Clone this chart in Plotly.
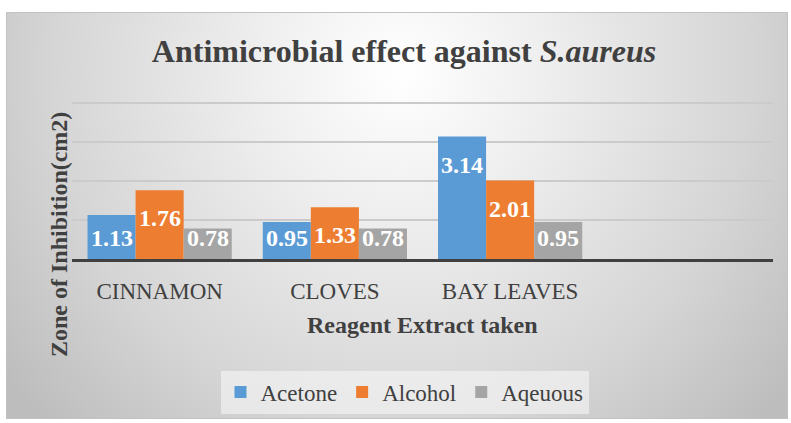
import base64
import plotly.graph_objects as go

# ---- data ----
categories = ["CINNAMON", "CLOVES", "BAY LEAVES"]
series_names = ["Acetone", "Alcohol", "Aqeuous"]
acetone = [1.13, 0.95, 3.14]
alcohol = [1.76, 1.33, 2.01]
aqueous = [0.78, 0.78, 0.95]
series_values = [acetone, alcohol, aqueous]
colors = ["#5B9BD5", "#ED7D31", "#A5A5A5"]

W, H = 791, 423
FONT = "Liberation Serif"
TXT = "#404040"
BARGAP = 0.177
Y_MAX = 4.05
LABEL_DROP = 0.72   # label centre sits this far (value units) below bar top
LABEL_FLOOR = 0.55  # but never lower than this

# plot-area geometry (pixels)
AX_BOTTOM = 259
PX_PER_UNIT = 39
AX_TOP = AX_BOTTOM - Y_MAX * PX_PER_UNIT

# ---- gradient chart-area background (SVG) ----
bw, bh = 782, 407
svg = f"""<svg xmlns='http://www.w3.org/2000/svg' width='{bw}' height='{bh}' viewBox='0 0 {bw} {bh}' preserveAspectRatio='none'>
<defs><radialGradient id='g' gradientUnits='userSpaceOnUse' cx='395' cy='60' r='500'>
<stop offset='0' stop-color='#ffffff'/>
<stop offset='0.28' stop-color='#efefef'/>
<stop offset='0.7' stop-color='#d5d5d5'/>
<stop offset='1' stop-color='#bdbdbd'/>
</radialGradient></defs>
<rect x='0.5' y='0.5' width='{bw-1}' height='{bh-1}' fill='url(#g)' stroke='#c2c2c2' stroke-width='1'/>
</svg>"""
uri = "data:image/svg+xml;base64," + base64.b64encode(svg.encode()).decode()

fig = go.Figure()
for name, vals, col in zip(series_names, series_values, colors):
    fig.add_trace(go.Bar(x=categories, y=vals, name=name, marker_color=col,
                         marker_line_width=0, hoverinfo="x+y+name"))

# data labels (inside end, Excel style)
bar_w = (1 - BARGAP) / len(series_names)
annotations = []
for j, vals in enumerate(series_values):
    for i, v in enumerate(vals):
        annotations.append(dict(
            x=i + (j - 1) * bar_w, y=max(v - LABEL_DROP, LABEL_FLOOR),
            xref="x", yref="y", text=f"<b>{v:.2f}</b>", showarrow=False,
            font=dict(family=FONT, size=24, color="#ffffff"),
            xanchor="center", yanchor="middle"))

# axis titles
annotations.append(dict(text="<b>Reagent Extract taken</b>", x=422.5 / W, y=1 - 325 / H,
                        xref="paper", yref="paper", showarrow=False,
                        font=dict(family=FONT, size=24, color=TXT),
                        xanchor="center", yanchor="middle"))
annotations.append(dict(text="<b>Zone of Inhibition(cm2)</b>", x=59 / W, y=1 - 235 / H,
                        xref="paper", yref="paper", showarrow=False, textangle=-90,
                        font=dict(family=FONT, size=24, color=TXT),
                        xanchor="center", yanchor="middle"))

fig.update_layout(
    width=W, height=H,
    margin=dict(l=0, r=0, t=0, b=0),
    font=dict(family=FONT, color=TXT),
    paper_bgcolor="#ffffff", plot_bgcolor="rgba(0,0,0,0)",
    barmode="group", bargap=BARGAP, bargroupgap=0,
    title=dict(text="<b>Antimicrobial effect against <i>S.aureus</i></b>",
               x=404 / W, y=1 - 51 / H, xref="paper", yref="paper",
               xanchor="center", yanchor="middle",
               font=dict(family=FONT, size=32, color=TXT)),
    xaxis=dict(domain=[72 / W, 773 / W], range=[-0.5, 3.5], type="category",
               categoryorder="array", categoryarray=categories,
               showline=True, linecolor="#404040", linewidth=3,
               showgrid=False, ticks="", ticklabelstandoff=9,
               tickfont=dict(family=FONT, size=23, color=TXT)),
    yaxis=dict(domain=[1 - AX_BOTTOM / H, 1 - AX_TOP / H], range=[0, Y_MAX], dtick=1,
               showticklabels=False, showgrid=True, gridcolor="#cbcbcb",
               gridwidth=1.5, zeroline=False, showline=False),
    legend=dict(orientation="h", x=404.5 / W, y=1 - 392 / H,
                xanchor="center", yanchor="middle",
                bgcolor="rgba(246,246,246,0.6)", borderwidth=0,
                font=dict(family=FONT, size=23, color=TXT),
                traceorder="normal"),
    annotations=annotations,
    images=[dict(source=uri, xref="paper", yref="paper", x=6 / W, y=1 - 12 / H,
                 sizex=bw / W, sizey=bh / H, sizing="stretch",
                 xanchor="left", yanchor="top", layer="below")],
    shapes=[dict(type="line", xref="x domain", yref="y", x0=0, x1=1, y0=1, y1=1,
                 line=dict(color="#8e8e8e", width=1.5), layer="below")],
)

fig.write_html("out.html",
               config={"displayModeBar": False},
               post_script="document.body.style.margin='0';document.body.style.overflow='hidden';")
